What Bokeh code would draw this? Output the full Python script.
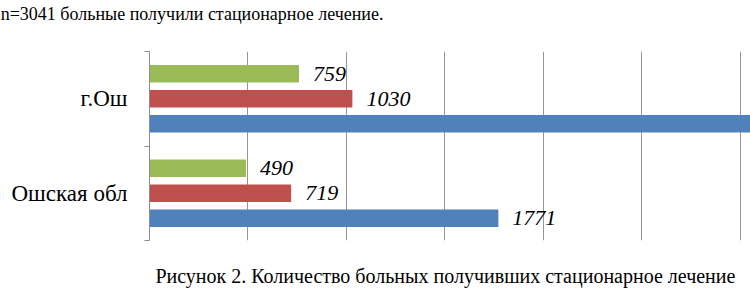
from bokeh.plotting import figure
from bokeh.models import ColumnDataSource, FixedTicker, SingleIntervalTicker, LinearAxis, Range1d
from bokeh.core.properties import value
from bokeh.embed import file_html
from bokeh.resources import INLINE

categories = ["Ошская обл", "г.Ош"]
green_vals = [490, 759]
red_vals = [719, 1030]
blue_vals = [1771, 3100]

top_text = "n=3041 больные получили стационарное лечение."
caption_text = "Рисунок 2. Количество больных получивших стационарное лечение"

colors = {"green": "#9BBB59", "red": "#C0504D", "blue": "#4F81BD"}
offsets = {"green": 0.265, "red": 0.0, "blue": -0.265}
bar_h = 0.185
# anchor positions (data units along x) for the two text lines
top_anchor = 214
caption_anchor = 1502

p = figure(width=750, height=290, output_backend="svg", toolbar_location=None,
           x_range=Range1d(0, 3051), y_range=Range1d(0, 2),
           min_border_left=149, min_border_right=0, min_border_top=50, min_border_bottom=50)
p.outline_line_color = None
p.background_fill_color = "white"
p.border_fill_color = "white"

serif = "'Liberation Serif', 'Times New Roman', serif"

for key, vals in (("green", green_vals), ("red", red_vals), ("blue", blue_vals)):
    ys = [i + 0.5 + offsets[key] for i in range(len(categories))]
    src = ColumnDataSource(dict(y=ys, right=vals, lab=[str(v) for v in vals]))
    p.hbar(y="y", right="right", left=0, height=bar_h, source=src,
           fill_color=colors[key], line_color=None)
    p.text(x="right", y="y", text="lab", source=src, x_offset=14,
           text_baseline="middle", text_align="left",
           text_font=value(serif), text_font_style="italic",
           text_font_size="22px", text_color="black")


def text_axis(ax, anchor, txt, standoff, size):
    ax.ticker = FixedTicker(ticks=[anchor])
    ax.major_label_overrides = {anchor: txt}
    ax.axis_line_color = None
    ax.major_tick_line_color = None
    ax.minor_tick_line_color = None
    ax.major_tick_out = 0
    ax.major_tick_in = 0
    ax.major_label_text_font = serif
    ax.major_label_text_font_size = size
    ax.major_label_text_color = "black"
    ax.major_label_standoff = standoff


text_axis(p.xaxis[0], caption_anchor, caption_text, 24, "20px")
top_ax = LinearAxis()
text_axis(top_ax, top_anchor, top_text, 28, "18px")
p.add_layout(top_ax, "above")

p.xgrid.ticker = SingleIntervalTicker(interval=500)
p.xgrid.grid_line_color = "#969696"
p.xgrid.grid_line_width = 1
p.ygrid.visible = False

yax = p.yaxis[0]
yax.ticker = FixedTicker(ticks=[i + 0.5 for i in range(len(categories))],
                         minor_ticks=[float(i) for i in range(len(categories) + 1)])
yax.major_label_overrides = {i + 0.5: c for i, c in enumerate(categories)}
yax.major_tick_line_color = None
yax.minor_tick_line_color = "#8c8c8c"
yax.minor_tick_out = 5
yax.minor_tick_in = 0
yax.axis_line_color = "#8c8c8c"
yax.major_label_text_font = serif
yax.major_label_text_font_size = "23px"
yax.major_label_text_color = "black"
yax.major_label_standoff = 16

open("out.html", "w").write(file_html(p, INLINE))
